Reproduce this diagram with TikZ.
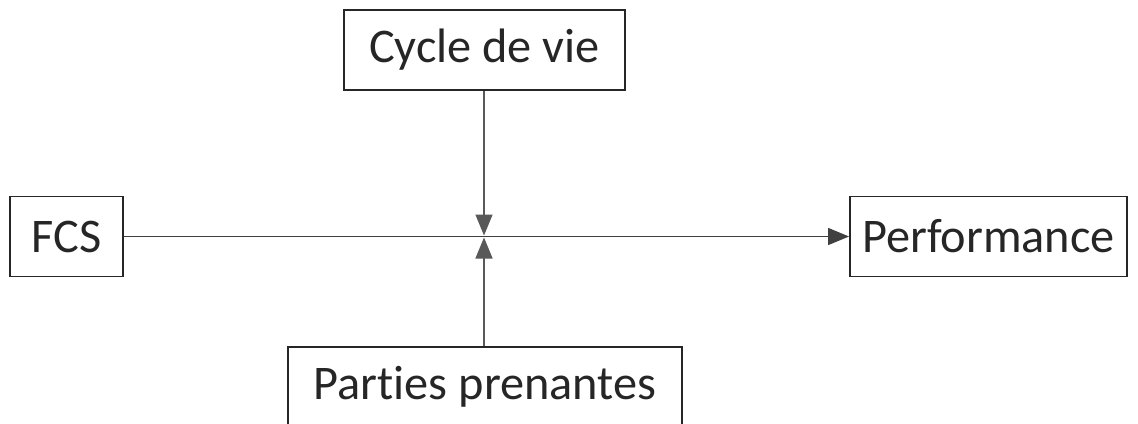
\documentclass[tikz,border=0pt]{standalone}
\usepackage{fontspec}
\setmainfont{Carlito}[Ligatures={NoCommon}]
\usetikzlibrary{arrows.meta}

\tikzset{
    box/.style={draw=black!85, line width=1.1pt, minimum height=1.6cm, inner sep=0pt,
        font=\fontsize{27.5}{32}\selectfont, text=black!85},
    link/.style={draw=black!65, line width=0.8pt,
        -{Triangle[length=0.42cm, width=0.34cm]}}
}

\begin{document}
\begin{tikzpicture}[x=0.02cm, y=-0.02cm]
    \clip (0,0) rectangle (1138,423);
    \fill[white] (0,0) rectangle (1138,423);
    \node[box, minimum width=5.62cm] (cycle) at (484.5,50) {Cycle de vie};
    \node[box, minimum width=2.26cm] (fcs) at (66.5,236.5) {FCS};
    \node[box, minimum width=5.54cm] (perf) at (988.5,236.5) {Performance};
    \node[box, minimum width=7.88cm] (parties) at (485,387) {Parties prenantes};
    \coordinate (mid) at (484,236.5);
    \draw[link, draw=black!75] (fcs) -- (perf);
    \draw[link, shorten >=0.02cm] (cycle.south -| mid) -- (mid);
    \draw[link, shorten >=0.02cm] (parties.north -| mid) -- (mid);
\end{tikzpicture}
\end{document}
